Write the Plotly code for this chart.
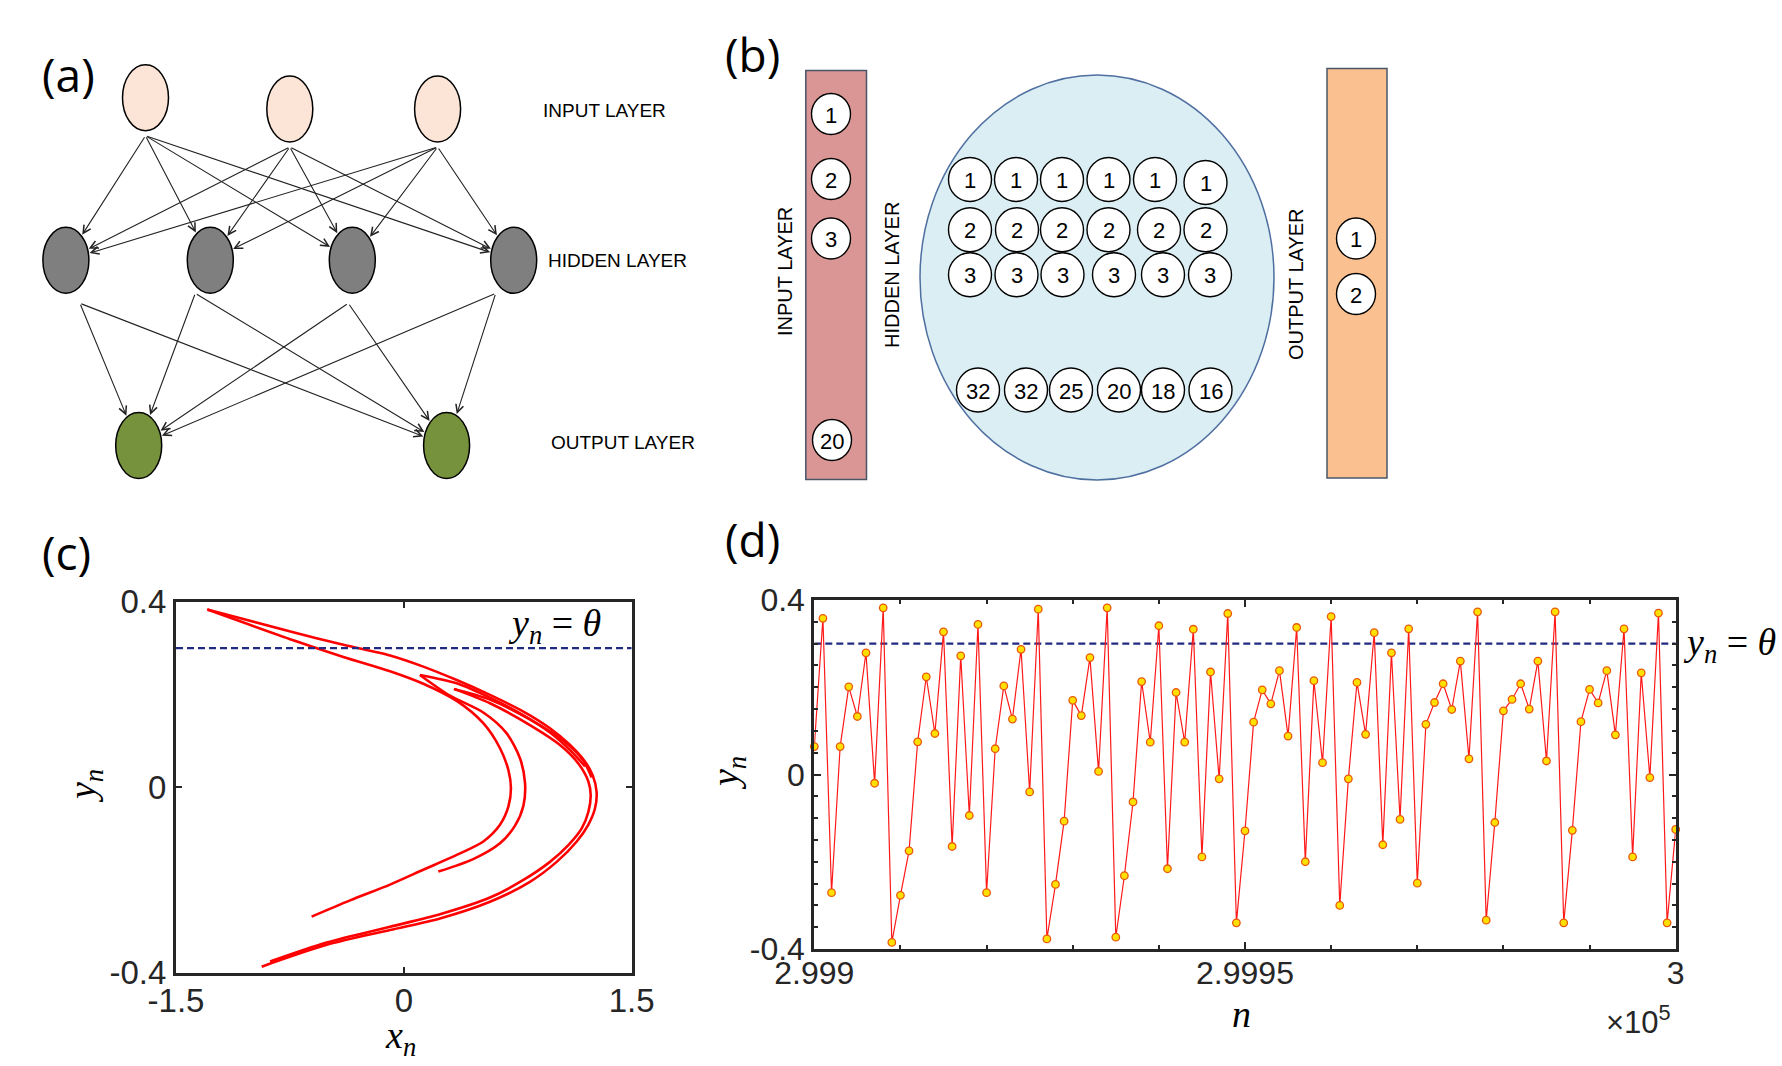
import math
import plotly.graph_objects as go

W, H = 1782, 1066

# ======================= DATA =======================
theta = 0.3

# panel (d): y_n over the last 101 iterations
d_n = list(range(299900, 300001))
d_y = [0.064, 0.358, -0.271, 0.064, 0.201, 0.133, 0.279, -0.020, 0.382, -0.385,
       -0.277, -0.175, 0.075, 0.224, 0.094, 0.327, -0.165, 0.272, -0.094, 0.344,
       -0.271, 0.059, 0.203, 0.127, 0.287, -0.040, 0.379, -0.377, -0.252, -0.107,
       0.170, 0.135, 0.268, 0.007, 0.382, -0.373, -0.232, -0.063, 0.213, 0.074,
       0.341, -0.216, 0.188, 0.074, 0.333, -0.189, 0.235, -0.010, 0.369, -0.340,
       -0.129, 0.120, 0.194, 0.162, 0.238, 0.088, 0.337, -0.200, 0.215, 0.027,
       0.362, -0.300, -0.010, 0.211, 0.092, 0.325, -0.161, 0.279, -0.103, 0.334,
       -0.249, 0.115, 0.165, 0.208, 0.149, 0.260, 0.036, 0.373, -0.334, -0.110,
       0.146, 0.172, 0.208, 0.150, 0.260, 0.031, 0.373, -0.340, -0.128, 0.121,
       0.195, 0.164, 0.238, 0.091, 0.334, -0.189, 0.233, -0.007, 0.370, -0.340,
       -0.126]

# panel (c): strands of the attractor
outer_x = [-1.294, -0.728, -0.398, -0.091, 0.128, 0.348, 0.567, 0.787, 0.962, 1.094,
           1.193, 1.243, 1.269, 1.258, 1.214, 1.138, 1.006, 0.830, 0.567, 0.238,
           -0.091, -0.508, -0.936]
outer_y = [0.383, 0.334, 0.307, 0.284, 0.260, 0.231, 0.199, 0.163, 0.127, 0.091,
           0.055, 0.026, -0.010, -0.046, -0.081, -0.117, -0.161, -0.204, -0.247, -0.283,
           -0.308, -0.340, -0.387]

inner_x = [-1.294, -0.728, -0.398, -0.091, 0.128, 0.348, 0.523, 0.633, 0.688, 0.705,
           0.688, 0.633, 0.523, 0.348, 0.128, -0.091, -0.354, -0.607]
inner_y = [0.383, 0.317, 0.281, 0.250, 0.223, 0.186, 0.138, 0.084, 0.037, -0.002,
           -0.042, -0.081, -0.117, -0.146, -0.178, -0.210, -0.244, -0.279]

fold1_up_x = [0.106, 0.348, 0.567, 0.787, 0.962, 1.094, 1.193]
fold1_up_y = [0.242, 0.224, 0.193, 0.155, 0.118, 0.080, 0.045]
fold1_lo_x = [0.106, 0.300, 0.523, 0.677, 0.765, 0.798, 0.787, 0.732, 0.633, 0.457, 0.227]
fold1_lo_y = [0.242, 0.198, 0.161, 0.116, 0.062, 0.008, -0.040, -0.083, -0.121, -0.155, -0.182]

fold2_up_x = [0.330, 0.567, 0.830, 1.050, 1.182, 1.236]
fold2_up_y = [0.212, 0.189, 0.146, 0.100, 0.057, 0.021]
fold2_lo_x = [0.330, 0.567, 0.830, 1.028, 1.149, 1.215, 1.230, 1.215, 1.171, 1.083,
              0.962, 0.787, 0.567, 0.238, -0.091, -0.508, -0.881]
fold2_lo_y = [0.212, 0.181, 0.134, 0.091, 0.051, 0.012, -0.017, -0.053, -0.089, -0.125,
              -0.161, -0.200, -0.238, -0.274, -0.301, -0.335, -0.376]

# panel (b) node labels
b_input_labels = ["1", "2", "3", "20"]
b_hidden_rows = [["1", "1", "1", "1", "1", "1"],
                 ["2", "2", "2", "2", "2", "2"],
                 ["3", "3", "3", "3", "3", "3"],
                 ["32", "32", "25", "20", "18", "16"]]
b_output_labels = ["1", "2"]

# ======================= LAYOUT GEOMETRY (pixels) =======================
A_IN = [(145.5, 97.7), (289.8, 109.0), (437.6, 109.0)]
A_HID = [(65.9, 260.3), (210.3, 260.3), (352.3, 260.3), (513.7, 260.3)]
A_OUT = [(138.7, 445.5), (446.6, 445.5)]
A_RX, A_RY = 23.0, 33.0
A_HID_TAIL = [(14, 10), (-15, 0), (-4, 10), (-18, 0)]

B_IN_POS = [(831.0, 114.0), (831.0, 179.0), (831.0, 238.5), (832.0, 440.0)]
B_ROW_Y = [179.5, 229.8, 274.8, 390.0]
B_COL_X = [[970, 1016, 1062, 1108.5, 1155, 1205.5],
           [970, 1017, 1062, 1108.5, 1159, 1205.5],
           [970, 1016.5, 1062.5, 1114, 1163, 1210],
           [978, 1026, 1071, 1119, 1163, 1210.5]]
B_OUT_POS = [(1356.0, 238.5), (1356.0, 294.0)]

AX_C = dict(l=176.0, r=631.7, t=601.7, b=972.7)
AX_D = dict(l=814.3, r=1675.7, t=600.0, b=949.0)

INK = "#262626"
SANS = "Liberation Sans, Arial, sans-serif"
NARROW = "Liberation Sans Narrow, Liberation Sans, Arial, sans-serif"
SERIF = "Liberation Serif, Times New Roman, serif"
LABEL_FONT = "Open Sans, Noto Sans, sans-serif"

fig = go.Figure()

# ---------- panel (c) ----------
red_line = dict(color="#FF0000", width=2.6, shape="spline", smoothing=0.8)
for xs, ys in [(outer_x, outer_y), (inner_x, inner_y), (fold1_up_x, fold1_up_y),
               (fold1_lo_x, fold1_lo_y), (fold2_up_x, fold2_up_y), (fold2_lo_x, fold2_lo_y)]:
    fig.add_trace(go.Scatter(x=xs, y=ys, mode="lines", line=red_line,
                             xaxis="x", yaxis="y", hoverinfo="skip", showlegend=False))
fig.add_trace(go.Scatter(x=[-1.5, 1.5], y=[theta, theta], mode="lines",
                         line=dict(color="#1F2A80", width=2.2, dash="7px,4px"),
                         xaxis="x", yaxis="y", hoverinfo="skip", showlegend=False))

# ---------- panel (d) ----------
fig.add_trace(go.Scatter(x=[d_n[0], d_n[-1]], y=[theta, theta], mode="lines",
                         line=dict(color="#1F2A80", width=2.2, dash="7px,4px"),
                         xaxis="x2", yaxis="y2", hoverinfo="skip", showlegend=False))
fig.add_trace(go.Scatter(x=d_n, y=d_y, mode="lines+markers",
                         line=dict(color="#FF1A1A", width=1.2),
                         marker=dict(size=7.5, color="#FFE000", line=dict(color="#E8590C", width=1.3)),
                         xaxis="x2", yaxis="y2", cliponaxis=False, hoverinfo="skip", showlegend=False))

# overlay pixel-space axes (diagram panels and free text)
fig.add_trace(go.Scatter(x=[W / 2], y=[H / 2], mode="markers", marker=dict(opacity=0),
                         xaxis="x3", yaxis="y3", hoverinfo="skip", showlegend=False))

shapes = []
ann = []

def ell(cx, cy, rx, ry, fill, line="#000000", lw=1.5):
    shapes.append(dict(type="circle", xref="x3", yref="y3", x0=cx - rx, x1=cx + rx,
                       y0=cy - ry, y1=cy + ry, fillcolor=fill,
                       line=dict(color=line, width=lw), layer="above"))

def rect(x0, y0, x1, y1, fill, line, lw=1.5):
    shapes.append(dict(type="rect", xref="x3", yref="y3", x0=x0, x1=x1, y0=y0, y1=y1,
                       fillcolor=fill, line=dict(color=line, width=lw), layer="above"))

def txt(x, y, s, size, family=SANS, color="#000000", angle=0, xanchor="center"):
    ann.append(dict(x=x, y=y, xref="x3", yref="y3", text=s, showarrow=False,
                    font=dict(size=size, family=family, color=color),
                    textangle=angle, xanchor=xanchor, yanchor="middle"))

def arrow(x0, y0, x1, y1):
    ann.append(dict(x=x1, y=y1, ax=x0, ay=y0, xref="x3", yref="y3", axref="x3", ayref="y3",
                    text="", showarrow=True, arrowhead=5, arrowsize=1.4, arrowwidth=1.1,
                    arrowcolor="#222222", standoff=0, startstandoff=0))

def edge_point(c, p, rx, ry, k=1.05):
    dx, dy = p[0] - c[0], p[1] - c[1]
    t = k / math.sqrt((dx / rx) ** 2 + (dy / ry) ** 2)
    return c[0] + dx * t, c[1] + dy * t

# ---------- panel (a) ----------
for c in A_IN:
    ell(c[0], c[1], A_RX, A_RY, "#FCE4D6")
for c in A_HID:
    ell(c[0], c[1], A_RX, A_RY, "#7F7F7F")
for c in A_OUT:
    ell(c[0], c[1], A_RX, A_RY, "#76923C")

for c in A_IN:
    tail = (c[0], c[1] + A_RY + 5)
    for h in A_HID:
        hx, hy = edge_point(h, tail, A_RX, A_RY)
        arrow(tail[0], tail[1], hx, hy)
for h, off in zip(A_HID, A_HID_TAIL):
    tail = (h[0] + off[0], h[1] + A_RY + off[1])
    for o in A_OUT:
        ox, oy = edge_point(o, tail, A_RX, A_RY)
        arrow(tail[0], tail[1], ox, oy)

txt(604, 110, "INPUT LAYER", 19, NARROW)
txt(617, 260, "HIDDEN LAYER", 19, NARROW)
txt(623, 442, "OUTPUT LAYER", 19, NARROW)

# ---------- panel (b) ----------
rect(805.8, 70.5, 866.5, 479.6, "#D99694", "#4A5568")
shapes.append(dict(type="circle", xref="x3", yref="y3", x0=920, x1=1274, y0=75, y1=480,
                   fillcolor="#DAEEF3", line=dict(color="#4F6FA0", width=1.5), layer="above"))
rect(1327, 68.5, 1387, 478, "#FAC090", "#4A5568")

for (cx, cy), lab in zip(B_IN_POS, b_input_labels):
    ell(cx, cy, 19.5, 20.5, "#FFFFFF", lw=1.4)
    txt(cx, cy + 1, lab, 22, NARROW)
for row, xs, cy in zip(b_hidden_rows, B_COL_X, B_ROW_Y):
    for i, (cx, lab) in enumerate(zip(xs, row)):
        yy = cy + (3 if (cy == B_ROW_Y[0] and i == 5) else 0)
        ell(cx, yy, 21.5, 22, "#FFFFFF", lw=1.4)
        txt(cx, yy + 1, lab, 22, NARROW)
for (cx, cy), lab in zip(B_OUT_POS, b_output_labels):
    ell(cx, cy, 19.5, 20.5, "#FFFFFF", lw=1.4)
    txt(cx, cy + 1, lab, 22, NARROW)

txt(785, 272, "INPUT LAYER", 20, NARROW, angle=-90)
txt(892, 275, "HIDDEN LAYER", 20, NARROW, angle=-90)
txt(1296, 284, "OUTPUT LAYER", 20, NARROW, angle=-90)

# ---------- panel labels ----------
txt(68, 74, "(a)", 46, LABEL_FONT)
txt(752, 54, "(b)", 46, LABEL_FONT)
txt(66, 552, "(c)", 46, LABEL_FONT)
txt(752, 539, "(d)", 46, LABEL_FONT)

# ---------- math labels ----------
yn = "<i>y</i><sub><i>n</i></sub>"
txt(554, 626, yn + " = <i>θ</i>", 38, SERIF)
txt(1729, 645, yn + " = <i>θ</i>", 38, SERIF)
txt(85, 786, yn, 38, SERIF, angle=-90)
txt(400, 1038, "<i>x</i><sub><i>n</i></sub>", 38, SERIF)
txt(728, 773, yn, 38, SERIF, angle=-90)
txt(1241, 1014, "<i>n</i>", 38, SERIF)
txt(1673, 1020, "×10<sup>5</sup>", 31, SANS, color=INK, xanchor="right")

def frac_x(px):
    return px / W

def frac_y(py):
    return 1 - py / H

axis_common = dict(showline=True, linewidth=3, linecolor=INK, mirror="ticks",
                   ticks="inside", tickwidth=2, tickcolor=INK, showgrid=False,
                   zeroline=False, fixedrange=True, automargin=False,
                   tickfont=dict(size=33, family=SANS, color=INK))

fig.update_layout(
    width=W, height=H,
    margin=dict(l=0, r=0, t=0, b=0, pad=0, autoexpand=False),
    paper_bgcolor="#FFFFFF", plot_bgcolor="rgba(0,0,0,0)",
    showlegend=False, hovermode=False,
    xaxis=dict(axis_common, domain=[frac_x(AX_C["l"]), frac_x(AX_C["r"])], anchor="y",
               range=[-1.5, 1.5], tickmode="array", tickvals=[-1.5, 0, 1.5],
               ticktext=["-1.5", "0", "1.5"], ticklen=6, ticklabelstandoff=-3),
    yaxis=dict(axis_common, domain=[frac_y(AX_C["b"]), frac_y(AX_C["t"])], anchor="x",
               range=[-0.4, 0.4], tickmode="array", tickvals=[-0.4, 0, 0.4],
               ticktext=["-0.4", "0", "0.4"], ticklen=6),
    xaxis2=dict(axis_common, domain=[frac_x(AX_D["l"]), frac_x(AX_D["r"])], anchor="y2",
                range=[d_n[0], d_n[-1]], tickmode="array",
                tickvals=[299900, 299950, 300000], ticktext=["2.999", "2.9995", "3"],
                ticklen=7, ticklabelstandoff=-6,
                tickfont=dict(size=32, family=SANS, color=INK),
                minor=dict(ticks="inside", tick0=299900, dtick=10, ticklen=4,
                           tickwidth=1.5, tickcolor=INK)),
    yaxis2=dict(axis_common, domain=[frac_y(AX_D["b"]), frac_y(AX_D["t"])], anchor="x2",
                range=[-0.4, 0.4], tickmode="array", tickvals=[-0.4, 0, 0.4],
                ticktext=["-0.4", "0", "0.4"], ticklen=7,
                tickfont=dict(size=32, family=SANS, color=INK),
                minor=dict(ticks="inside", tick0=0, dtick=0.05, ticklen=4,
                           tickwidth=1.5, tickcolor=INK)),
    xaxis3=dict(domain=[0, 1], range=[0, W], visible=False, anchor="y3",
                fixedrange=True, automargin=False),
    yaxis3=dict(domain=[0, 1], range=[H, 0], visible=False, anchor="x3",
                fixedrange=True, automargin=False),
    shapes=shapes,
    annotations=ann,
)

fig.write_html("out.html", config={"displayModeBar": False},
               post_script="document.body.style.margin='0';document.body.style.overflow='hidden';")
